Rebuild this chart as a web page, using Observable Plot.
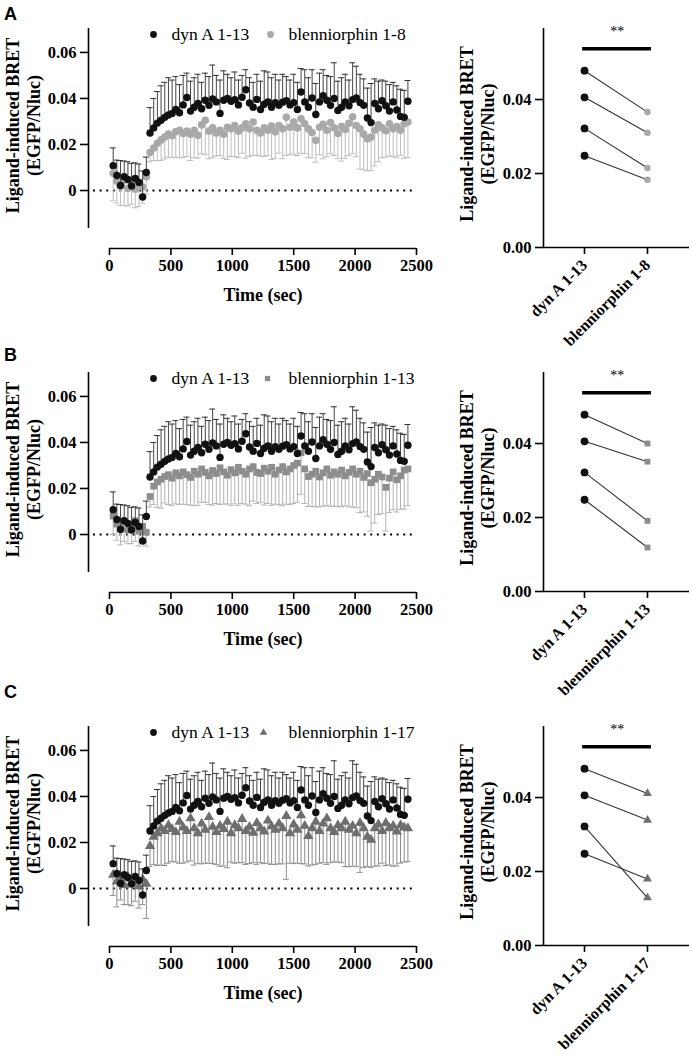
<!DOCTYPE html>
<html><head><meta charset="utf-8">
<script src="https://cdn.jsdelivr.net/npm/d3@7"></script>
<script src="https://cdn.jsdelivr.net/npm/@observablehq/plot@0.6"></script>
<style>
body{margin:0;background:#fff;}
#fig{position:relative;width:692px;height:1061px;overflow:hidden;background:#fff;}
#fig svg{position:absolute;}
.letter{position:absolute;left:4px;font-family:"Liberation Sans",Arial,sans-serif;font-weight:bold;font-size:18px;line-height:18px;}
</style></head><body><div id="fig"></div>
<script>
// sampling times (sec)
const times = d3.range(30, 2431, 30);

// dyn A 1-13 : mean and SD (same reference series in all panels)
const dynA = [
  0.0108, 0.0065, 0.0022, 0.0060, 0.0048, 0.0020, 0.0052, 0.0035, -0.0028, 0.0078,
  0.0250, 0.0272, 0.0293, 0.0305, 0.0318, 0.0328, 0.0335, 0.0352, 0.0338, 0.0372,
  0.0404, 0.0345, 0.0362, 0.0378, 0.0355, 0.0392, 0.0370, 0.0398, 0.0385, 0.0335,
  0.0392, 0.0400, 0.0388, 0.0395, 0.0372, 0.0405, 0.0438, 0.0380, 0.0362, 0.0396,
  0.0352, 0.0375, 0.0385, 0.0362, 0.0382, 0.0370, 0.0384, 0.0390, 0.0372, 0.0382,
  0.0352, 0.0428, 0.0385, 0.0362, 0.0402, 0.0330, 0.0385, 0.0412, 0.0392, 0.0370,
  0.0400, 0.0348, 0.0362, 0.0385, 0.0368, 0.0395, 0.0402, 0.0382, 0.0370, 0.0315,
  0.0295, 0.0378, 0.0355, 0.0390, 0.0368, 0.0345, 0.0385, 0.0350, 0.0322, 0.0318,
  0.0388
];
const dynA_sd = [
  0.0077, 0.0067, 0.0108, 0.0068, 0.0077, 0.0098, 0.0068, 0.0080, 0.0113, 0.0067,
  0.0110, 0.0128, 0.0137, 0.0150, 0.0152, 0.0162, 0.0145, 0.0143, 0.0122, 0.0128,
  0.0106, 0.0130, 0.0128, 0.0127, 0.0115, 0.0118, 0.0125, 0.0147, 0.0115, 0.0145,
  0.0128, 0.0105, 0.0102, 0.0120, 0.0108, 0.0095, 0.0087, 0.0110, 0.0108, 0.0109,
  0.0123, 0.0145, 0.0130, 0.0128, 0.0123, 0.0110, 0.0121, 0.0105, 0.0108, 0.0123,
  0.0118, 0.0102, 0.0140, 0.0128, 0.0123, 0.0135, 0.0125, 0.0113, 0.0108, 0.0125,
  0.0155, 0.0127, 0.0128, 0.0120, 0.0112, 0.0160, 0.0138, 0.0123, 0.0115, 0.0130,
  0.0170, 0.0107, 0.0120, 0.0090, 0.0107, 0.0115, 0.0085, 0.0105, 0.0118, 0.0117,
  0.0090
];

// blenniorphin 1-8
const blen8 = [
  0.0075, 0.0040, 0.0020, 0.0045, 0.0010, 0.0030, 0.0005, 0.0035, 0.0015, 0.0060,
  0.0165, 0.0185, 0.0205, 0.0220, 0.0232, 0.0245, 0.0238, 0.0255, 0.0262, 0.0248,
  0.0258, 0.0245, 0.0262, 0.0240, 0.0285, 0.0305, 0.0258, 0.0272, 0.0250, 0.0262,
  0.0245, 0.0275, 0.0268, 0.0282, 0.0258, 0.0272, 0.0290, 0.0268, 0.0298, 0.0262,
  0.0250, 0.0272, 0.0262, 0.0280, 0.0255, 0.0282, 0.0268, 0.0318, 0.0275, 0.0298,
  0.0272, 0.0312, 0.0290, 0.0268, 0.0252, 0.0218, 0.0275, 0.0288, 0.0262, 0.0295,
  0.0272, 0.0248, 0.0278, 0.0265, 0.0292, 0.0320, 0.0282, 0.0268, 0.0245, 0.0225,
  0.0232, 0.0262, 0.0285, 0.0272, 0.0260, 0.0290, 0.0268, 0.0278, 0.0262, 0.0290,
  0.0298
];
const blen8_sd = [
  0.0120, 0.0095, 0.0085, 0.0110, 0.0078, 0.0090, 0.0080, 0.0105, 0.0070, 0.0075,
  0.0040, 0.0055, 0.0075, 0.0090, 0.0095, 0.0100, 0.0095, 0.0110, 0.0120, 0.0105,
  0.0110, 0.0115, 0.0120, 0.0100, 0.0125, 0.0150, 0.0120, 0.0130, 0.0100, 0.0110,
  0.0105, 0.0140, 0.0120, 0.0135, 0.0115, 0.0110, 0.0150, 0.0120, 0.0145, 0.0110,
  0.0100, 0.0125, 0.0110, 0.0145, 0.0115, 0.0120, 0.0130, 0.0165, 0.0120, 0.0140,
  0.0120, 0.0150, 0.0130, 0.0125, 0.0110, 0.0095, 0.0120, 0.0150, 0.0115, 0.0135,
  0.0120, 0.0110, 0.0150, 0.0125, 0.0140, 0.0160, 0.0135, 0.0175, 0.0155, 0.0140,
  0.0145, 0.0155, 0.0160, 0.0130, 0.0115, 0.0140, 0.0120, 0.0135, 0.0110, 0.0150,
  0.0155
];

// blenniorphin 1-13
const blen13 = [
  0.0080, 0.0045, 0.0030, 0.0055, 0.0020, 0.0040, 0.0060, 0.0015, 0.0035, 0.0010,
  0.0165, 0.0210, 0.0228, 0.0240, 0.0252, 0.0260, 0.0245, 0.0268, 0.0255, 0.0272,
  0.0260, 0.0248, 0.0275, 0.0262, 0.0285, 0.0270, 0.0255, 0.0278, 0.0265, 0.0290,
  0.0272, 0.0258, 0.0282, 0.0268, 0.0292, 0.0275, 0.0262, 0.0285, 0.0295, 0.0270,
  0.0265, 0.0288, 0.0275, 0.0292, 0.0262, 0.0280, 0.0295, 0.0272, 0.0285, 0.0300,
  0.0310, 0.0355, 0.0285, 0.0252, 0.0262, 0.0275, 0.0250, 0.0268, 0.0285, 0.0258,
  0.0272, 0.0262, 0.0280, 0.0255, 0.0270, 0.0285, 0.0262, 0.0275, 0.0248, 0.0265,
  0.0225, 0.0240, 0.0262, 0.0250, 0.0205, 0.0245, 0.0272, 0.0238, 0.0255, 0.0280,
  0.0285
];
const blen13_sd = [
  0.0080, 0.0070, 0.0075, 0.0085, 0.0060, 0.0080, 0.0090, 0.0065, 0.0070, 0.0060,
  0.0045, 0.0080, 0.0110, 0.0125, 0.0115, 0.0130, 0.0120, 0.0135, 0.0125, 0.0140,
  0.0130, 0.0120, 0.0150, 0.0135, 0.0145, 0.0130, 0.0125, 0.0150, 0.0130, 0.0160,
  0.0140, 0.0125, 0.0155, 0.0135, 0.0165, 0.0140, 0.0130, 0.0160, 0.0150, 0.0135,
  0.0125, 0.0160, 0.0140, 0.0165, 0.0130, 0.0150, 0.0170, 0.0140, 0.0155, 0.0165,
  0.0170, 0.0180, 0.0150, 0.0130, 0.0140, 0.0155, 0.0130, 0.0145, 0.0160, 0.0135,
  0.0150, 0.0140, 0.0160, 0.0130, 0.0150, 0.0165, 0.0145, 0.0180, 0.0150, 0.0185,
  0.0210, 0.0190, 0.0175, 0.0160, 0.0190, 0.0150, 0.0165, 0.0140, 0.0145, 0.0170,
  0.0160
];

// blenniorphin 1-17
const blen17 = [
  0.0060, 0.0030, 0.0045, 0.0015, 0.0050, 0.0025, 0.0035, 0.0010, 0.0040, 0.0020,
  0.0185, 0.0225, 0.0240, 0.0262, 0.0250, 0.0275, 0.0258, 0.0245, 0.0290, 0.0265,
  0.0250, 0.0305, 0.0262, 0.0240, 0.0282, 0.0255, 0.0310, 0.0268, 0.0245, 0.0272,
  0.0258, 0.0290, 0.0240, 0.0275, 0.0262, 0.0302, 0.0250, 0.0268, 0.0242, 0.0285,
  0.0262, 0.0248, 0.0295, 0.0270, 0.0255, 0.0282, 0.0262, 0.0315, 0.0240, 0.0278,
  0.0255, 0.0318, 0.0272, 0.0228, 0.0262, 0.0290, 0.0250, 0.0282, 0.0305, 0.0262,
  0.0245, 0.0275, 0.0262, 0.0290, 0.0255, 0.0272, 0.0240, 0.0285, 0.0262, 0.0225,
  0.0212, 0.0262, 0.0278, 0.0250, 0.0285, 0.0262, 0.0272, 0.0248, 0.0275, 0.0265,
  0.0262
];
const blen17_sd = [
  0.0090, 0.0110, 0.0095, 0.0085, 0.0120, 0.0100, 0.0090, 0.0095, 0.0110, 0.0150,
  0.0090, 0.0120, 0.0140, 0.0160, 0.0150, 0.0165, 0.0140, 0.0130, 0.0180, 0.0155,
  0.0135, 0.0185, 0.0160, 0.0130, 0.0175, 0.0145, 0.0200, 0.0160, 0.0140, 0.0175,
  0.0160, 0.0200, 0.0125, 0.0165, 0.0150, 0.0190, 0.0145, 0.0160, 0.0130, 0.0180,
  0.0150, 0.0140, 0.0185, 0.0165, 0.0150, 0.0175, 0.0155, 0.0275, 0.0130, 0.0170,
  0.0145, 0.0210, 0.0165, 0.0130, 0.0160, 0.0185, 0.0140, 0.0170, 0.0200, 0.0150,
  0.0130, 0.0160, 0.0150, 0.0195, 0.0160, 0.0175, 0.0145, 0.0215, 0.0170, 0.0130,
  0.0120, 0.0165, 0.0180, 0.0140, 0.0185, 0.0160, 0.0175, 0.0150, 0.0165, 0.0150,
  0.0145
];

// paired (per-experiment) values
const pairDyn = [0.0478, 0.0406, 0.0322, 0.0248];
const pair8 = [0.0366, 0.0310, 0.0215, 0.0183];
const pair13 = [0.0400, 0.0351, 0.0191, 0.0119];
const pair17 = [0.0411, 0.0339, 0.0129, 0.0180];

// labels and ticks
const refName = "dyn A 1-13";
const names = ["blenniorphin 1-8", "blenniorphin 1-13", "blenniorphin 1-17"];
const letters = ["A", "B", "C"];
const yLabel = "Ligand-induced BRET\n(EGFP/Nluc)";
const xLabel = "Time (sec)";
const timeYTicks = [0, 0.02, 0.04, 0.06];
const timeXTicks = [0, 500, 1000, 1500, 2000, 2500];
const pairYTicks = [0, 0.02, 0.04];
const sigText = "**";
const sigLevel = 0.0537;

const SERIF = "Liberation Serif, Times New Roman, serif";
const baseStyle = {fontFamily: SERIF, fontSize: "16.5px", fontWeight: "bold", background: "transparent", overflow: "visible", color: "#000"};

function timePanel({mean, sd, name, symbol, fill, errColor, legSym, legR, leg2dx}) {
  const rows = times.map((t, i) => ({t, dyn: dynA[i], dynSD: dynA_sd[i], b: mean[i], bSD: sd[i]}));
  return Plot.plot({
    width: 420, height: 310,
    marginLeft: 88, marginRight: 4, marginTop: 28, marginBottom: 62,
    style: baseStyle,
    x: {domain: [-171, 2500]},
    y: {domain: [-0.0252, 0.0704]},
    marks: [
      Plot.ruleY([0], {x1: -130, x2: 2478, stroke: "#000", strokeWidth: 2.2, strokeDasharray: "2 4.6"}),
      Plot.ruleX(rows, {x: "t", y1: "b", y2: d => d.b - d.bSD, stroke: errColor, strokeWidth: 1}),
      Plot.ruleY(rows, {y: d => d.b - d.bSD, x1: "t", x2: "t", insetLeft: -3, insetRight: -3, stroke: errColor, strokeWidth: 1}),
      Plot.dot(rows, {x: "t", y: "b", symbol, fill, r: 3.8}),
      Plot.ruleX(rows, {x: "t", y1: "dyn", y2: d => d.dyn + d.dynSD, stroke: "#444", strokeWidth: 1}),
      Plot.ruleY(rows, {y: d => d.dyn + d.dynSD, x1: "t", x2: "t", insetLeft: -3, insetRight: -3, stroke: "#333", strokeWidth: 1}),
      Plot.dot(rows, {x: "t", y: "dyn", fill: "#111", r: 3.7}),
      // axis lines
      Plot.ruleX([-171], {y1: -0.0165, y2: 0.0704, stroke: "#000", strokeWidth: 1.6}),
      Plot.ruleY([-0.0252], {x1: 0, x2: 2500, stroke: "#000", strokeWidth: 1.6}),
      Plot.axisY({ticks: timeYTicks, tickFormat: d => d === 0 ? "0" : d.toFixed(2), tickSize: 8, tickPadding: 4, label: null, strokeWidth: 1.6, fontFamily: SERIF, fontWeight: "bold"}),
      Plot.axisX({ticks: timeXTicks, tickFormat: d => String(d), tickSize: 7, tickPadding: 4, label: null, strokeWidth: 1.6, fontFamily: SERIF, fontWeight: "bold"}),
      Plot.text([yLabel], {text: d => d, frameAnchor: "left", dx: -66, dy: -13, rotate: -90, fontSize: 18, lineHeight: 1.2, textAnchor: "middle", lineAnchor: "middle", fontFamily: SERIF, fontWeight: "bold"}),
      Plot.text([xLabel], {text: d => d, x: () => 1250, frameAnchor: "bottom", dy: 52, lineAnchor: "bottom", fontSize: 18, fontFamily: SERIF, fontWeight: "bold"}),
      // legend
      Plot.dot([refName], {frameAnchor: "top-left", dx: 65, dy: 6, fill: "#111", r: 3.4}),
      Plot.text([refName], {text: d => d, frameAnchor: "top-left", dx: 83, dy: 6, textAnchor: "start", lineAnchor: "middle", fontWeight: "normal", fontSize: 17.5, fontFamily: SERIF}),
      Plot.dot([name], {frameAnchor: "top-left", dx: leg2dx, dy: 6, fill, symbol: legSym, r: legR}),
      Plot.text([name], {text: d => d, frameAnchor: "top-left", dx: 200, dy: 6, textAnchor: "start", lineAnchor: "middle", fontWeight: "normal", fontSize: 17.5, fontFamily: SERIF})
    ]
  });
}

function pairPanel({vals, name, symbol, fill, H}) {
  const cats = [refName, name];
  const pairs = pairDyn.map((v, i) => ({a: v, b: vals[i]}));
  return Plot.plot({
    width: 272, height: H,
    marginLeft: 123, marginRight: 3, marginTop: 28, marginBottom: H - 247,
    style: baseStyle,
    x: {domain: [-0.651, 1.667]},
    y: {domain: [0, 0.0592]},
    marks: [
      Plot.link(pairs, {x1: () => cats.indexOf(refName), x2: () => cats.indexOf(name), y1: "a", y2: "b", stroke: "#333", strokeWidth: 1.1}),
      Plot.dot(pairs, {x: () => cats.indexOf(refName), y: "a", fill: "#111", r: 3.9}),
      Plot.dot(pairs, {x: () => cats.indexOf(name), y: "b", symbol, fill, r: 3.3}),
      Plot.ruleY([sigLevel], {x1: -0.03, x2: 1.063, stroke: "#000", strokeWidth: 3.5}),
      Plot.text([sigText], {text: d => d, x: () => 0.52, y: () => 0.0583, fontSize: 14, fontWeight: "normal", fontFamily: SERIF}),
      Plot.ruleX([-0.651], {y1: 0, y2: 0.0592, stroke: "#000", strokeWidth: 1.6}),
      Plot.ruleY([0], {stroke: "#000", strokeWidth: 1.6}),
      Plot.axisY({ticks: pairYTicks, tickFormat: d => d.toFixed(2), tickSize: 8, tickPadding: 4, label: null, strokeWidth: 1.6, fontFamily: SERIF, fontWeight: "bold"}),
      Plot.axisX({ticks: [0, 1], tickFormat: i => cats[i], tickRotate: -45, tickSize: 7, tickPadding: 8, label: null, strokeWidth: 1.6, fontSize: 16, fontFamily: SERIF, fontWeight: "bold"}),
      Plot.text([yLabel], {text: d => d, frameAnchor: "left", dx: -67, dy: -4, rotate: -90, fontSize: 18, lineHeight: 1.2, textAnchor: "middle", lineAnchor: "middle", fontFamily: SERIF, fontWeight: "bold"})
    ]
  });
}

const fig = document.getElementById("fig");
const rowsCfg = [
  {top: 0, letterTop: 4.7, mean: blen8, sd: blen8_sd, pair: pair8, name: names[0], symbol: "circle", fill: "#a9a9a9", errColor: "#bdbdbd", legSym: "circle", legR: 3.4, leg2dx: 182, H: 340},
  {top: 344, letterTop: 345.7, mean: blen13, sd: blen13_sd, pair: pair13, name: names[1], symbol: "square", fill: "#8d8d8d", errColor: "#b3b3b3", legSym: "square", legR: 3.0, leg2dx: 179, H: 340},
  {top: 698, letterTop: 682.7, mean: blen17, sd: blen17_sd, pair: pair17, name: names[2], symbol: "triangle", fill: "#6e6e6e", errColor: "#8c8c8c", legSym: "triangle", legR: 2.8, leg2dx: 175, H: 363}
];
rowsCfg.forEach((c, k) => {
  const left = timePanel(c);
  left.style.left = "0px"; left.style.top = c.top + "px";
  fig.appendChild(left);
  const right = pairPanel({vals: c.pair, name: c.name, symbol: c.symbol, fill: c.fill, H: c.H});
  right.style.left = "420px"; right.style.top = c.top + "px";
  fig.appendChild(right);
  const L = document.createElement("div");
  L.className = "letter"; L.textContent = letters[k]; L.style.top = c.letterTop + "px";
  fig.appendChild(L);
});
</script></body></html>
